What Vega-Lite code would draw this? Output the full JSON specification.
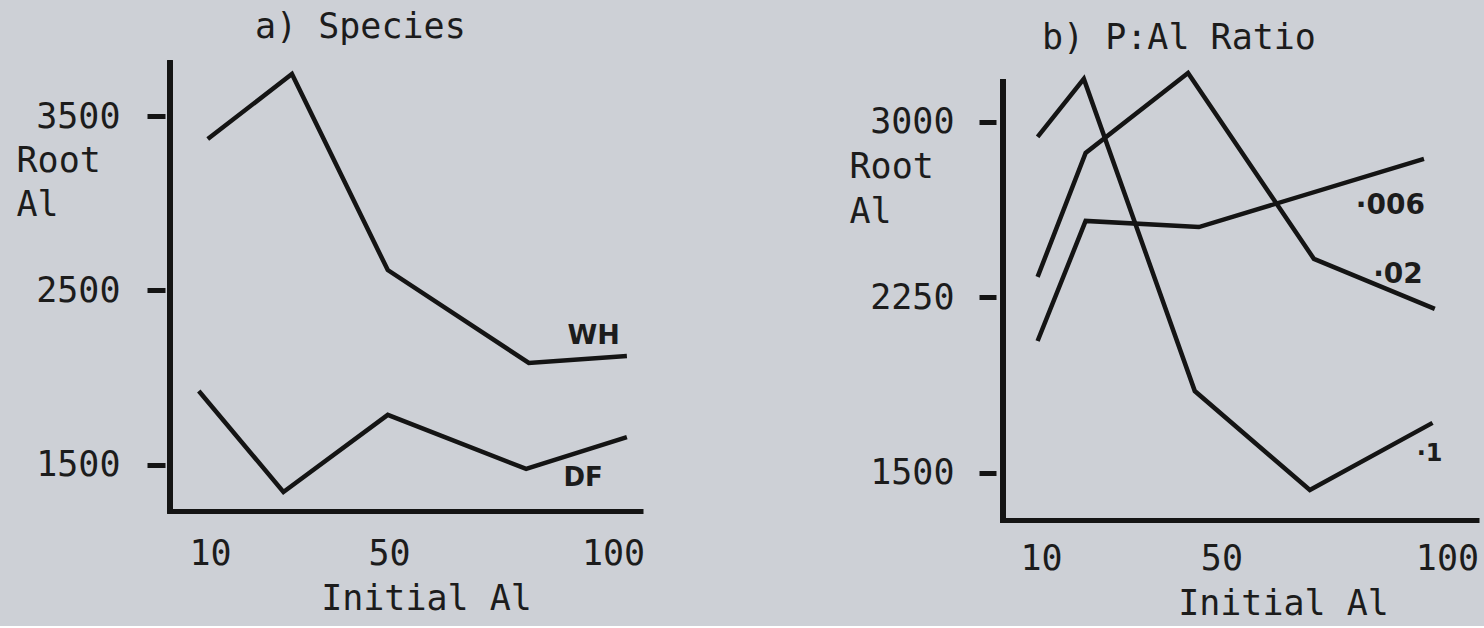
{
  "$schema": "https://vega.github.io/schema/vega-lite/v6.json",
  "background": "#cdd0d6",
  "padding": {"left": 16, "top": 10, "right": 5, "bottom": 5},
  "spacing": 204,
  "datasets": {
    "species": [
      {"species": "WH", "al": 9.5, "root": 3368},
      {"species": "WH", "al": 28.3, "root": 3741},
      {"species": "WH", "al": 49.7, "root": 2617},
      {"species": "WH", "al": 81.2, "root": 2085},
      {"species": "WH", "al": 103.1, "root": 2125},
      {"species": "DF", "al": 7.5, "root": 1924},
      {"species": "DF", "al": 26.4, "root": 1345},
      {"species": "DF", "al": 49.7, "root": 1787},
      {"species": "DF", "al": 80.6, "root": 1477},
      {"species": "DF", "al": 103.1, "root": 1660}
    ],
    "ratio": [
      {"ratio": ".1", "al": 9.25, "root": 2936},
      {"ratio": ".1", "al": 19.5, "root": 3184},
      {"ratio": ".1", "al": 44.1, "root": 1850},
      {"ratio": ".1", "al": 69.6, "root": 1427},
      {"ratio": ".1", "al": 96.8, "root": 1714},
      {"ratio": ".02", "al": 9.25, "root": 2338},
      {"ratio": ".02", "al": 19.9, "root": 2868},
      {"ratio": ".02", "al": 42.6, "root": 3209},
      {"ratio": ".02", "al": 70.5, "root": 2415},
      {"ratio": ".02", "al": 97.3, "root": 2201},
      {"ratio": ".006", "al": 9.25, "root": 2064},
      {"ratio": ".006", "al": 19.9, "root": 2577},
      {"ratio": ".006", "al": 45.0, "root": 2551},
      {"ratio": ".006", "al": 94.9, "root": 2842}
    ]
  },
  "config": {
    "view": {"stroke": null},
    "font": "DejaVu Sans Mono",
    "axis": {
      "grid": false,
      "labelFont": "DejaVu Sans Mono",
      "labelFontSize": 35,
      "labelColor": "#1c1c1c",
      "labelFlush": false,
      "labelOverlap": false,
      "titleFont": "DejaVu Sans Mono",
      "titleFontSize": 35,
      "titleFontWeight": "normal",
      "titleColor": "#1c1c1c",
      "domainColor": "#141414",
      "tickColor": "#141414"
    },
    "title": {
      "font": "DejaVu Sans Mono",
      "fontSize": 35,
      "fontWeight": "normal",
      "color": "#1c1c1c",
      "anchor": "start",
      "frame": "group",
      "baseline": "alphabetic"
    },
    "line": {"color": "#141414", "strokeWidth": 4.5},
    "text": {"color": "#1c1c1c", "font": "DejaVu Sans", "fontWeight": "bold", "baseline": "alphabetic", "align": "right"}
  },
  "hconcat": [
    {
      "title": {"text": "a) Species", "dx": 85, "offset": 14},
      "width": 473,
      "height": 448,
      "data": {"name": "species"},
      "layer": [
        {
          "mark": "line",
          "encoding": {
            "x": {
              "field": "al",
              "type": "quantitative",
              "scale": {"domain": [1.07, 106.7], "nice": false, "zero": false},
              "axis": {
                "values": [10, 50, 100],
                "domainWidth": 5,
                "ticks": false,
                "tickSize": 0,
                "labelPadding": 53,
                "labelBaseline": "alphabetic",
                "labelAlign": "center",
                "title": "Initial Al",
                "titleX": 256,
                "titleY": 98,
                "titleAlign": "center",
                "titleBaseline": "alphabetic"
              }
            },
            "y": {
              "field": "root",
              "type": "quantitative",
              "scale": {"domain": [1236, 3804], "nice": false, "zero": false},
              "axis": {
                "values": [1500, 2500, 3500],
                "format": "d",
                "domain": false,
                "offset": 5,
                "tickSize": 18,
                "tickWidth": 5,
                "labelPadding": 27,
                "labelBaseline": "middle",
                "title": ["Root", "Al"],
                "titleAngle": 0,
                "titleAlign": "left",
                "titleBaseline": "alphabetic",
                "titleX": -149,
                "titleY": 108,
                "titleLineHeight": 44
              }
            },
            "detail": {"field": "species"}
          }
        },
        {
          "mark": {"type": "rule", "strokeWidth": 5, "strokeCap": "square", "color": "#141414"},
          "encoding": {
            "x": {"datum": 1.07, "type": "quantitative"},
            "y": {"datum": 1236, "type": "quantitative"},
            "y2": {"datum": 3804}
          }
        },
        {
          "transform": [
            {"filter": "datum.species === 'WH'"},
            {"joinaggregate": [{"op": "max", "field": "al", "as": "last"}]},
            {"filter": "datum.al === datum.last"}
          ],
          "mark": {"type": "text", "fontSize": 27, "dx": -7, "dy": -12},
          "encoding": {
            "x": {"field": "al", "type": "quantitative"},
            "y": {"field": "root", "type": "quantitative"},
            "text": {"field": "species"}
          }
        },
        {
          "transform": [
            {"filter": "datum.species === 'DF'"},
            {"joinaggregate": [{"op": "max", "field": "al", "as": "last"}]},
            {"filter": "datum.al === datum.last"}
          ],
          "mark": {"type": "text", "fontSize": 26, "dx": -24, "dy": 49},
          "encoding": {
            "x": {"field": "al", "type": "quantitative"},
            "y": {"field": "root", "type": "quantitative"},
            "text": {"field": "species"}
          }
        }
      ]
    },
    {
      "title": {"text": "b) P:Al Ratio", "dx": 39, "offset": 7},
      "width": 476,
      "height": 457,
      "data": {"name": "ratio"},
      "layer": [
        {
          "mark": "line",
          "encoding": {
            "x": {
              "field": "al",
              "type": "quantitative",
              "scale": {"domain": [1.58, 107.1], "nice": false, "zero": false},
              "axis": {
                "values": [10, 50, 100],
                "domainWidth": 5,
                "ticks": false,
                "tickSize": 0,
                "labelPadding": 49,
                "labelBaseline": "alphabetic",
                "labelAlign": "center",
                "title": "Initial Al",
                "titleX": 280,
                "titleY": 94,
                "titleAlign": "center",
                "titleBaseline": "alphabetic"
              }
            },
            "y": {
              "field": "root",
              "type": "quantitative",
              "scale": {"domain": [1299, 3252], "nice": false, "zero": false},
              "axis": {
                "values": [1500, 2250, 3000],
                "format": "d",
                "domain": false,
                "offset": 7,
                "tickSize": 17,
                "tickWidth": 5,
                "labelPadding": 25,
                "labelBaseline": "middle",
                "title": ["Root", "Al"],
                "titleAngle": 0,
                "titleAlign": "left",
                "titleBaseline": "alphabetic",
                "titleX": -147,
                "titleY": 114,
                "titleLineHeight": 45
              }
            },
            "detail": {"field": "ratio"}
          }
        },
        {
          "mark": {"type": "rule", "strokeWidth": 5, "strokeCap": "square", "color": "#141414"},
          "encoding": {
            "x": {"datum": 1.58, "type": "quantitative"},
            "y": {"datum": 1299, "type": "quantitative"},
            "y2": {"datum": 3171}
          }
        },
        {
          "transform": [
            {"filter": "datum.ratio === '.006'"},
            {"joinaggregate": [{"op": "max", "field": "al", "as": "last"}]},
            {"filter": "datum.al === datum.last"},
            {"calculate": "replace(datum.ratio, '.', '·')", "as": "label"}
          ],
          "mark": {"type": "text", "fontSize": 28, "dx": 1, "dy": 55},
          "encoding": {
            "x": {"field": "al", "type": "quantitative"},
            "y": {"field": "root", "type": "quantitative"},
            "text": {"field": "label"}
          }
        },
        {
          "transform": [
            {"filter": "datum.ratio === '.02'"},
            {"joinaggregate": [{"op": "max", "field": "al", "as": "last"}]},
            {"filter": "datum.al === datum.last"},
            {"calculate": "replace(datum.ratio, '.', '·')", "as": "label"}
          ],
          "mark": {"type": "text", "fontSize": 28, "dx": -12, "dy": -26},
          "encoding": {
            "x": {"field": "al", "type": "quantitative"},
            "y": {"field": "root", "type": "quantitative"},
            "text": {"field": "label"}
          }
        },
        {
          "transform": [
            {"filter": "datum.ratio === '.1'"},
            {"joinaggregate": [{"op": "max", "field": "al", "as": "last"}]},
            {"filter": "datum.al === datum.last"},
            {"calculate": "replace(datum.ratio, '.', '·')", "as": "label"}
          ],
          "mark": {"type": "text", "fontSize": 24, "dx": 10, "dy": 38},
          "encoding": {
            "x": {"field": "al", "type": "quantitative"},
            "y": {"field": "root", "type": "quantitative"},
            "text": {"field": "label"}
          }
        }
      ]
    }
  ]
}
